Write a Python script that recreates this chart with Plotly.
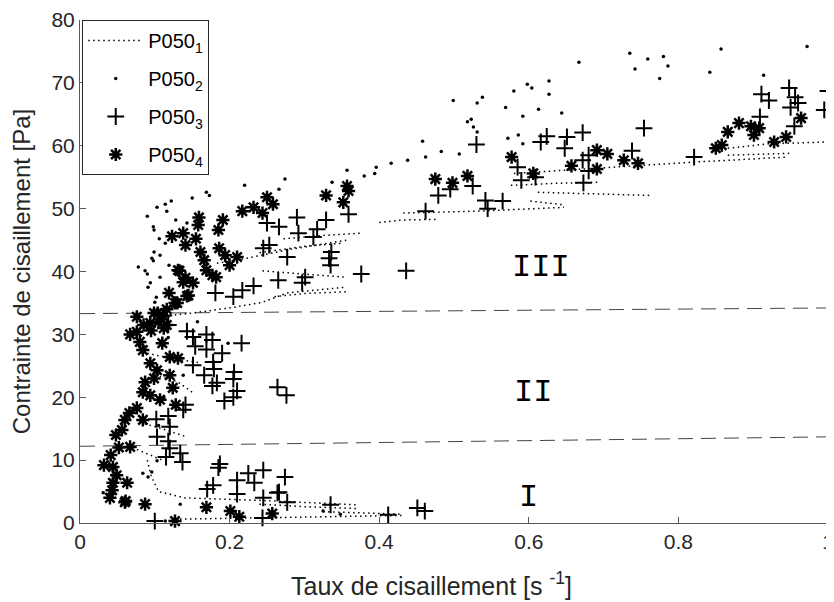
import plotly.graph_objects as go

# P050_1 : dotted step curves (None separates each curve)
p1_x = [0.127, 0.25, 0.35, 0.43, None,
        0.325, 0.38, 0.43, None,
        0.09, 0.095, 0.105, 0.14, 0.24, 0.37, None,
        0.24, 0.30, 0.37, None,
        0.09, 0.12, 0.16, None,
        0.10, 0.13, 0.15, None,
        0.08, 0.11, 0.14, None,
        0.07, 0.09, 0.11, None,
        0.12, 0.151, 0.205, 0.244, 0.277, 0.355, None,
        0.26, 0.30, 0.36, None,
        0.244, 0.30, 0.355, None,
        0.183, 0.21, 0.28, 0.357, None,
        0.24, 0.30, 0.35, None,
        0.272, 0.32, 0.377, None,
        0.40, 0.432, 0.48, None,
        0.432, 0.48, 0.531, 0.647, None,
        0.602, 0.647, None,
        0.612, 0.70, 0.763, None,
        0.576, 0.63, 0.696, None,
        0.58, 0.70, 0.79, 0.821, 0.946, None,
        0.866, 0.92, 1.0, None,
        0.866, 0.95]
p1_y = [0.6, 0.8, 1.0, 1.2, None,
        1.8, 1.6, 1.4, None,
        10.0, 7.5, 5.0, 4.0, 3.6, 2.9, None,
        3.0, 2.6, 2.3, None,
        27.0, 26.2, 25.5, None,
        23.5, 22.5, 20.8, None,
        16.0, 15.0, 13.8, None,
        12.0, 11.0, 10.0, None,
        33.0, 33.4, 34.3, 35.1, 36.6, 37.5, None,
        36.0, 36.5, 36.8, None,
        40.1, 39.6, 39.1, None,
        41.3, 41.8, 43.5, 45.0, None,
        43.0, 44.0, 44.5, None,
        45.2, 45.7, 46.1, None,
        47.8, 48.2, 48.3, None,
        49.3, 49.4, 49.6, 50.2, None,
        51.2, 50.6, None,
        52.6, 52.3, 52.1, None,
        53.7, 54.0, 54.2, None,
        55.6, 56.5, 57.1, 57.4, 58.2, None,
        59.6, 60.3, 60.6, None,
        58.5, 58.8]

# P050_2 : small dots
p2_x = [0.090, 0.103, 0.114, 0.122, 0.116, 0.098, 0.099, 0.128, 0.150, 0.169, 0.173, 0.220,
        0.266, 0.274, 0.337, 0.357, 0.380, 0.394, 0.396, 0.416, 0.438, 0.458, 0.462, 0.483,
        0.507, 0.499, 0.518, 0.143, 0.106, 0.114, 0.099, 0.096, 0.098, 0.107, 0.119, 0.078,
        0.087, 0.090, 0.107, 0.094, 0.091, 0.102, 0.100, 0.104, 0.157, 0.198, 0.138, 0.103,
        0.031, 0.134, 0.114, 0.084, 0.091, 0.096, 0.325, 0.348, 0.523, 0.526, 0.531, 0.531,
        0.538, 0.569, 0.572, 0.580, 0.586, 0.592, 0.598, 0.604, 0.613, 0.592, 0.627, 0.627,
        0.644, 0.667, 0.735, 0.742, 0.759, 0.775, 0.780, 0.786, 0.842, 0.857, 0.914, 0.972,
        0.118, 0.128, 0.112, 0.105, 0.125]
p2_y = [48.8, 50.2, 50.7, 51.2, 49.6, 47.1, 46.6, 48.2, 51.7, 52.6, 52.1, 53.7,
        53.1, 54.7, 54.2, 56.1, 55.2, 55.6, 56.6, 57.2, 57.7, 60.7, 58.2, 59.1,
        58.7, 67.2, 63.8, 47.7, 45.2, 44.5, 43.1, 42.1, 41.7, 42.6, 41.0, 40.7,
        40.1, 39.6, 39.1, 38.2, 37.5, 35.9, 35.1, 34.0, 32.0, 28.6, 23.5, 9.9,
        4.8, 3.0, 0.3, 7.9, 7.3, 8.1, 1.9, 1.4, 64.2, 63.0, 62.2, 66.8,
        67.7, 66.1, 61.2, 68.7, 61.7, 64.7, 69.8, 69.2, 65.8, 60.3, 70.3, 68.2,
        65.2, 73.3, 74.7, 72.2, 73.8, 70.7, 74.2, 72.7, 71.7, 75.4, 71.2, 75.8,
        29.5, 26.5, 20.0, 15.5, 18.5]

# P050_3 : plus markers
p3_x = [0.143, 0.151, 0.169, 0.177, 0.154, 0.169, 0.190, 0.216, 0.151, 0.178, 0.179, 0.166,
        0.183, 0.177, 0.206, 0.205, 0.210, 0.205, 0.193, 0.264, 0.276, 0.141, 0.138, 0.118,
        0.102, 0.120, 0.103, 0.118, 0.120, 0.115, 0.134, 0.137, 0.118, 0.112,
        0.187, 0.185, 0.225, 0.245, 0.210, 0.233, 0.178, 0.170, 0.210, 0.245, 0.264, 0.100,
        0.244, 0.274, 0.266, 0.277, 0.335, 0.412, 0.451, 0.461,
        0.181, 0.205, 0.217, 0.232, 0.265, 0.297, 0.301, 0.335, 0.333, 0.336, 0.376, 0.436,
        0.245, 0.253, 0.277, 0.250, 0.266, 0.290, 0.292, 0.312, 0.317, 0.329, 0.359, 0.462,
        0.479, 0.495, 0.525, 0.530, 0.542, 0.545, 0.565, 0.585, 0.590, 0.609, 0.616, 0.624,
        0.651, 0.648, 0.672, 0.672, 0.673, 0.680, 0.680, 0.738, 0.754, 0.821, 0.909, 0.911,
        0.921, 0.948, 0.956, 0.960, 0.950, 0.955, 0.995, 1.0]
p3_y = [30.5, 29.6, 30.0, 29.1, 28.1, 27.6, 27.0, 28.6, 25.1, 25.6, 24.5, 23.5,
        22.3, 21.8, 24.0, 22.9, 21.0, 20.0, 19.4, 21.6, 20.3, 18.8, 18.0, 17.0,
        16.5, 15.3, 13.7, 13.0, 11.9, 10.5, 11.1, 9.7, 31.5, 33.0,
        9.4, 8.8, 7.9, 8.4, 6.8, 6.4, 6.0, 5.4, 4.6, 4.0, 4.8, 0.3,
        0.8, 7.3, 4.9, 3.3, 2.9, 1.3, 2.4, 1.9,
        36.6, 36.0, 37.0, 37.7, 38.6, 38.2, 39.1, 41.0, 42.1, 43.1, 39.6, 40.1,
        43.7, 44.2, 42.3, 47.7, 47.1, 48.6, 46.1, 45.5, 46.7, 48.2, 49.1, 49.6,
        52.1, 53.1, 53.6, 60.2, 51.3, 50.0, 51.2, 56.6, 54.5, 55.0, 60.6, 61.5,
        61.4, 59.6, 62.1, 57.7, 54.1, 56.0, 58.5, 59.2, 62.8, 58.2, 64.6, 68.2,
        67.2, 69.2, 67.7, 66.8, 66.1, 63.1, 65.7, 68.7]

# P050_4 : asterisk markers
p4_x = [0.475, 0.498, 0.518, 0.357, 0.359, 0.352, 0.329, 0.250, 0.258, 0.232, 0.217, 0.244,
        0.191, 0.185, 0.159, 0.158, 0.155, 0.138, 0.141, 0.123, 0.161, 0.186, 0.194, 0.200,
        0.210, 0.166, 0.169, 0.177, 0.182, 0.133, 0.138, 0.151, 0.145, 0.119, 0.127, 0.116,
        0.076, 0.099, 0.104, 0.111, 0.094, 0.116, 0.130, 0.143, 0.141, 0.131,
        0.577, 0.606, 0.657, 0.691, 0.691, 0.705, 0.727, 0.746, 0.850, 0.858, 0.866, 0.881,
        0.897, 0.901, 0.908, 0.928, 0.944, 0.964,
        0.067, 0.076, 0.080, 0.084, 0.110, 0.094, 0.103, 0.120, 0.131, 0.087, 0.099, 0.120,
        0.124, 0.084, 0.094, 0.107, 0.128, 0.076, 0.066, 0.084, 0.060, 0.056, 0.048, 0.067,
        0.052, 0.041, 0.085, 0.095, 0.105, 0.112,
        0.032, 0.044, 0.049, 0.044, 0.043, 0.040, 0.063, 0.060, 0.087, 0.127, 0.169, 0.201,
        0.213, 0.257, 0.061]
p4_y = [54.7, 54.1, 55.2, 53.6, 52.8, 51.0, 52.1, 51.8, 50.7, 50.2, 49.6, 49.3,
        48.2, 46.6, 48.6, 47.4, 45.2, 46.1, 44.2, 45.6, 43.1, 43.7, 42.6, 41.0,
        42.3, 41.8, 40.2, 39.4, 39.1, 40.1, 38.3, 38.2, 36.2, 36.6, 35.0, 34.0,
        32.8, 33.4, 33.4, 32.9, 31.8, 31.5, 35.0, 36.1, 39.0, 40.2,
        58.2, 55.6, 56.8, 59.3, 56.3, 58.7, 57.7, 57.2, 59.6, 60.1, 62.2, 63.6,
        63.1, 61.7, 62.8, 60.6, 61.4, 64.4,
        30.0, 30.4, 28.8, 27.5, 28.6, 25.4, 24.3, 26.4, 26.2, 22.4, 23.0, 23.5,
        21.5, 20.8, 20.3, 19.6, 18.8, 18.3, 17.5, 16.4, 16.4, 14.8, 14.0, 12.1,
        12.0, 10.8, 31.5, 30.6, 32.0, 31.0,
        9.2, 8.9, 7.6, 6.4, 5.2, 4.0, 6.4, 3.3, 3.0, 0.3, 2.5, 1.9,
        1.0, 1.5, 3.5]

# regime boundaries (dashed)
bound_x = [0, 1]
bound_low = [12.2, 13.7]
bound_high = [33.3, 34.2]

# regime labels
regime_text = ["I", "II", "III"]
regime_x = [0.600, 0.606, 0.616]
regime_y = [4.1, 20.8, 40.7]

FONT = "Liberation Sans, Arial"

fig = go.Figure()

for by in [bound_low, bound_high]:
    fig.add_trace(go.Scatter(x = bound_x, y = by, mode = 'lines',
                             line = dict(color = '#444444', width = 1, dash = '15px,8px'),
                             showlegend = False, hoverinfo = 'skip'))

fig.add_trace(go.Scatter(x = p1_x, y = p1_y, mode = 'lines', name = 'P050<sub>1</sub>',
                         legendgroup = 'g1',
                         line = dict(color = 'black', width = 1.5, dash = '1.5px,3.5px'),
                         connectgaps = False))

fig.add_trace(go.Scatter(x = p2_x, y = p2_y, mode = 'markers', name = 'P050<sub>2</sub>',
                         legendgroup = 'g2',
                         marker = dict(symbol = 'circle', size = 3.5, color = 'black'),
                         cliponaxis = False))

fig.add_trace(go.Scatter(x = p3_x, y = p3_y, mode = 'markers', name = 'P050<sub>3</sub>',
                         legendgroup = 'g3',
                         marker = dict(symbol = 'cross-thin', size = 12, color = 'black',
                                       line = dict(color = 'black', width = 2)),
                         cliponaxis = False))

fig.add_trace(go.Scatter(x = p4_x, y = p4_y, mode = 'markers', name = 'P050<sub>4</sub>',
                         legendgroup = 'g4',
                         marker = dict(symbol = 'asterisk', size = 11, color = 'black',
                                       line = dict(color = 'black', width = 2.5)),
                         cliponaxis = False))

for t, xx, yy in zip(regime_text, regime_x, regime_y):
    fig.add_annotation(x = xx, y = yy, text = t, showarrow = False,
                       font = dict(family = 'Liberation Mono', size = 32, color = 'black'))

# x title sits a little left of centre in the original
fig.add_annotation(x = 0.47, y = -0.158, xref = 'paper', yref = 'paper',
                   text = 'Taux de cisaillement [s <sup>-1</sup>]', showarrow = False,
                   font = dict(family = FONT, size = 25, color = '#262626'))

axis_style = dict(showline = True, linecolor = '#5a5a5a', linewidth = 1,
                  ticks = 'inside', ticklen = 6, tickcolor = '#5a5a5a',
                  showgrid = False, zeroline = False, automargin = False,
                  ticklabeloverflow = 'allow',
                  tickfont = dict(family = FONT, size = 21, color = '#262626'))

# page body has an 8px margin, so the figure is sized to fit the 834x602 window
fig.update_layout(width = 826, height = 594,
                  margin = dict(l = 72, r = 6, t = 12, b = 79),
                  plot_bgcolor = 'white', paper_bgcolor = 'white',
                  font = dict(family = FONT, color = '#262626'),
                  xaxis = dict(range = [0, 1], tickvals = [0, 0.2, 0.4, 0.6, 0.8, 1],
                               ticktext = ['0', '0.2', '0.4', '0.6', '0.8', '1'],
                               **axis_style),
                  yaxis = dict(range = [0, 80], dtick = 10,
                               title = dict(text = 'Contrainte de cisaillement [Pa]',
                                            font = dict(family = FONT, size = 24), standoff = 14),
                               **axis_style),
                  legend = dict(x = 0.003, y = 1, xanchor = 'left', yanchor = 'top',
                                bgcolor = 'white', bordercolor = '#262626', borderwidth = 1,
                                itemwidth = 55, tracegroupgap = 9,
                                font = dict(family = FONT, size = 20, color = 'black')),
                  showlegend = True)

fig.write_html("out.html")
